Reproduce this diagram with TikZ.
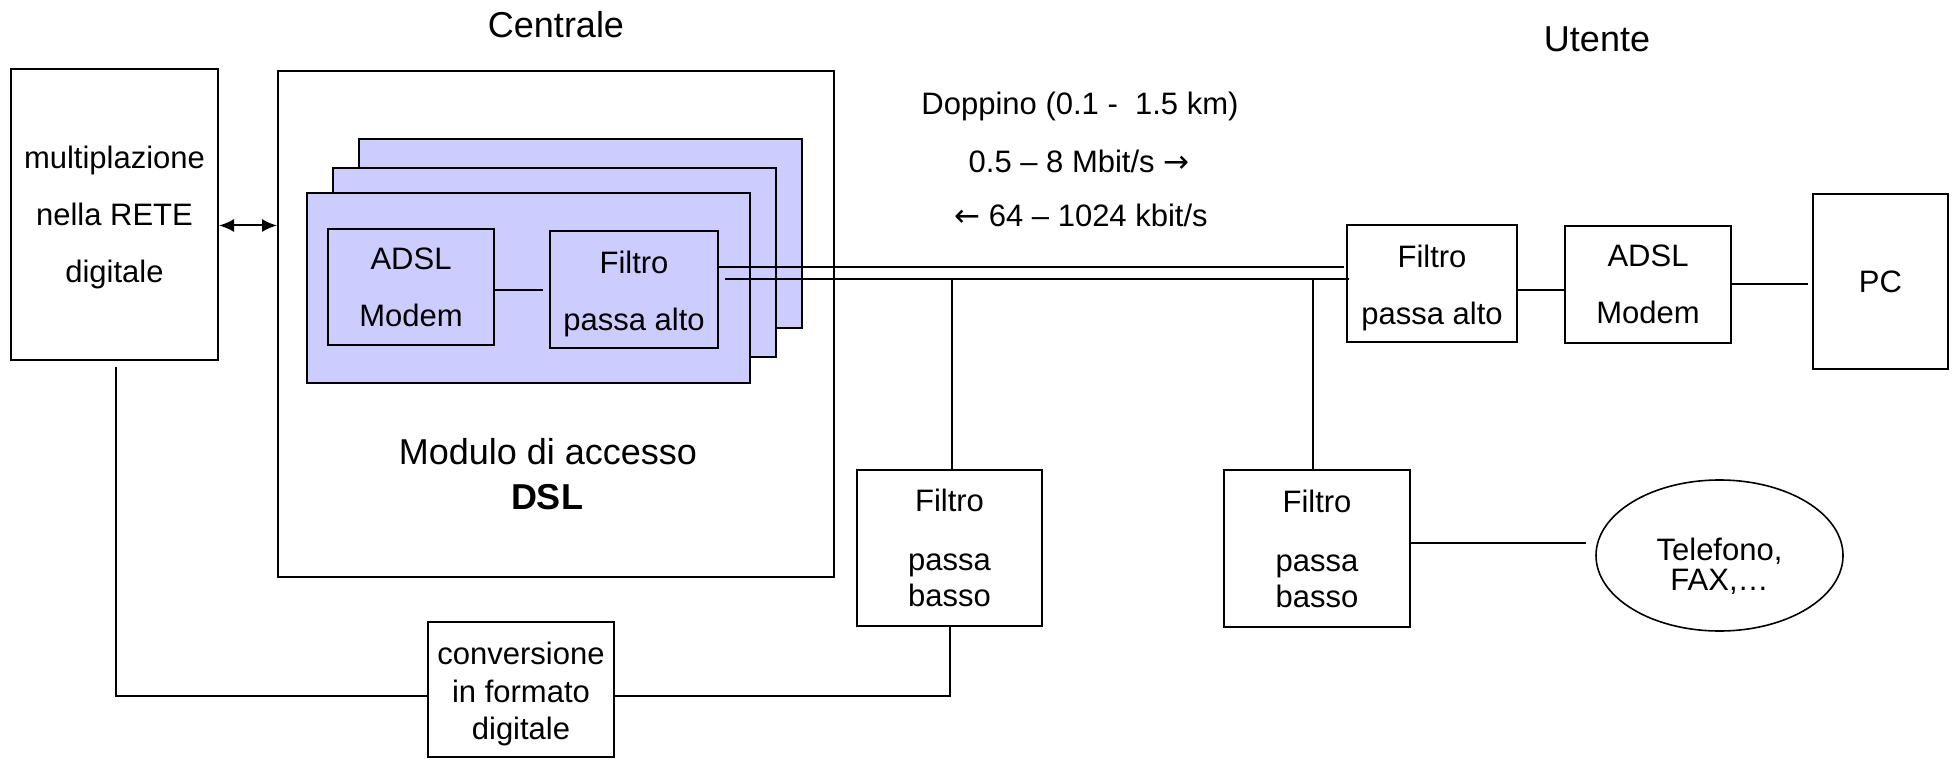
\documentclass[tikz,border=0pt]{standalone}
\usepackage{fontspec}
\setmainfont{Liberation Sans}
\newfontfamily\arrowfont{DejaVu Sans}
\usetikzlibrary{shapes.geometric,arrows.meta,calc}
\definecolor{cardblue}{RGB}{204,204,255}
\newcommand{\lift}[1]{\rule{0pt}{#1pt}}
\begin{document}
\begin{tikzpicture}[x=1pt,y=-1pt,
  line width=2pt,
  >={Latex[length=15pt,width=13pt]},
  box/.style={draw, rectangle, inner sep=0pt, align=center, font=\fontsize{31}{57}\selectfont},
  card/.style={draw, rectangle, fill=cardblue, inner sep=0pt, minimum width=443, minimum height=189},
  ttl/.style={font=\fontsize{36}{43}\selectfont, inner sep=0pt, anchor=base},
  txt/.style={font=\fontsize{31}{36}\selectfont, inner sep=0pt, anchor=base}]
\useasboundingbox (0,0) rectangle (1954,759);

% titles
\node[ttl] (centrale) at (556,38) {Centrale};
\node[ttl] (utente) at (1597,52) {Utente};

% left multiplexing box
\node[box, minimum width=207, minimum height=291] (mux) at (114.5,214.5) {\lift{27.5}multiplazione\\nella RETE\\digitale};

% access module
\node[draw, rectangle, inner sep=0pt, minimum width=556, minimum height=506] (big) at (556,324) {};
\node[card] (card3) at (580.5,233.5) {};
\node[card] (card2) at (554.5,262.5) {};
\node[card] (card1) at (528.5,288) {};
\node[box, minimum width=166, minimum height=116] (mA) at (411,287) {ADSL\\Modem};
\node[box, minimum width=168, minimum height=117] (fA) at (634,289.5) {\lift{30.6}Filtro\\passa alto};
\node[ttl] (modulo) at (548,464) {Modulo di accesso};
\node[ttl] (dsl) at (547,509) {\bfseries DSL};

% line rates
\node[txt] (doppino) at (1080,115) {Doppino (0.1 -\ \ 1.5 km)};
\node[txt] (down) at (1079,173) {0.5 – 8 Mbit/s {\arrowfont →}};
\node[txt] (up) at (1081,227) {{\arrowfont ←} 64 – 1024 kbit/s};

% user side
\node[box, minimum width=170, minimum height=117] (rF) at (1432,283.5) {\lift{30.6}Filtro\\passa alto};
\node[box, minimum width=166, minimum height=117] (rM) at (1648,284.5) {ADSL\\Modem};
\node[box, minimum width=135, minimum height=175] (pc) at (1880.5,281.5) {PC};

% low-pass filters
\node[box, font=\fontsize{31}{36}\selectfont, minimum width=185, minimum height=156] (lpL) at (949.5,548) {Filtro\\[23pt]passa\\basso};
\node[box, font=\fontsize{31}{36}\selectfont, minimum width=186, minimum height=157] (lpR) at (1317,548.5) {Filtro\\[23pt]passa\\basso};

% converter
\node[box, font=\fontsize{31}{37.5}\selectfont, minimum width=186, minimum height=135] (conv) at (521,689.5) {\lift{32.2}conversione\\in formato\\digitale};

% phone
\node[draw, ellipse, inner sep=0pt, line width=1.6pt, minimum width=247, minimum height=151] (tel) at (1719.5,555.5) {};
\node[txt] (telA) at (1719.5,560) {Telefono,};
\node[txt] (telB) at (1719.5,590) {FAX,…};

% connectors
\draw[<->] ($(mux.east)+(0,11)$) coordinate (ar) -- (ar -| big.west);
\draw ($(mA.east)+(0,3)$) coordinate (m1) -- ($(m1 -| fA.west)+(-6,0)$);
\draw ($(fA.east)+(0,-22.5)$) coordinate (t1) -- ($(t1 -| rF.west)+(-2,0)$);
\draw ($(fA.east)+(6,-10.5)$) coordinate (b1) -- ($(b1 -| rF.west)+(3,0)$);
\draw ($(lpL.north)+(2.5,0)$) coordinate (n1) -- (n1 |- b1);
\draw ($(lpR.north)+(-4,0)$) coordinate (n2) -- (n2 |- b1);
\draw ($(rF.east)+(0,6.5)$) coordinate (c1) -- (c1 -| rM.west);
\draw (rM.east) -- ($(rM.east -| pc.west)+(-4,0)$);
\draw ($(lpR.east)+(0,-6)$) coordinate (c2) -- ($(c2 -| tel.west)+(-9,0)$);
\draw (lpL.south) -- ($(lpL.south |- conv.east)+(0,6.5)$) coordinate (c3) -- (c3 -| conv.east);
\draw ($(conv.west)+(0,6.5)$) coordinate (c4) -- ($(mux.south |- c4)+(1.5,0)$) coordinate (c5) -- ($(c5 |- mux.south)+(0,6)$);
\end{tikzpicture}
\end{document}
